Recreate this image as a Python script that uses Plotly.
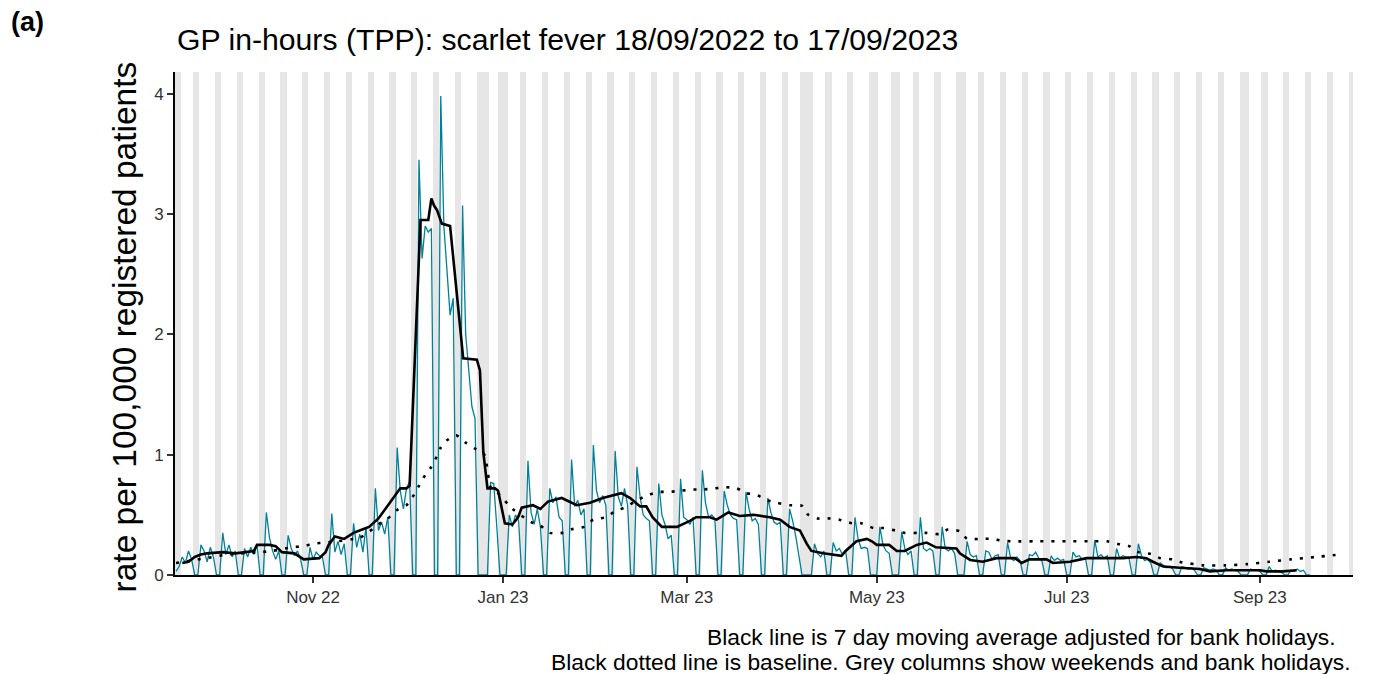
import pandas as pd
import plotly.graph_objects as go

# ---------------- data ----------------
START_DATE = "2022-09-18"          # first daily value (Sunday)
first_day_value = [0.03]
# daily rate per 100,000, Monday..Sunday, weeks starting 19 Sep 2022
weekly_rates = [
    [0.07, 0.15, 0.10, 0.20, 0.13, 0, 0],
    [0.25, 0.20, 0.11, 0.23, 0.15, 0, 0],
    [0.35, 0.17, 0.25, 0.15, 0.20, 0, 0],
    [0.22, 0.15, 0.23, 0.17, 0.25, 0, 0],
    [0.52, 0.31, 0.20, 0.13, 0.20, 0, 0],
    [0.33, 0.22, 0.16, 0.20, 0.13, 0, 0],
    [0.23, 0.13, 0.19, 0.16, 0.15, 0, 0],
    [0.51, 0.19, 0.28, 0.17, 0.26, 0, 0],
    [0.43, 0.23, 0.34, 0.19, 0.40, 0, 0],
    [0.72, 0.37, 0.44, 0.34, 0.48, 0, 0],
    [1.06, 0.70, 0.55, 0.72, 0.78, 0, 0],
    [3.45, 2.63, 2.90, 2.85, 2.88, 0, 0],
    [3.98, 2.90, 2.50, 2.16, 2.30, 0, 0],
    [3.07, 2.00, 1.66, 1.40, 1.30, 0, 0],
    [0, 0, 0.77, 0.76, 0.40, 0, 0],
    [0, 0.50, 0.40, 0.50, 0.45, 0, 0],
    [0.95, 0.52, 0.42, 0.55, 0.40, 0, 0],
    [0.72, 0.60, 0.65, 0.48, 0.45, 0, 0],
    [0.96, 0.57, 0.62, 0.50, 0.55, 0, 0],
    [1.08, 0.70, 0.60, 0.66, 0.58, 0, 0],
    [1.03, 0.65, 0.57, 0.72, 0.58, 0, 0],
    [0.90, 0.65, 0.50, 0.47, 0.45, 0, 0],
    [0.76, 0.50, 0.42, 0.30, 0.33, 0, 0],
    [0.80, 0.48, 0.46, 0.42, 0.48, 0, 0],
    [0.87, 0.60, 0.48, 0.50, 0.47, 0, 0],
    [0.70, 0.58, 0.50, 0.47, 0.46, 0, 0],
    [0.69, 0.55, 0.45, 0.47, 0.42, 0, 0],
    [0.64, 0.52, 0.44, 0.42, 0.44, 0, 0],
    [0.55, 0.45, 0.32, 0.17, 0, 0, 0],
    [0, 0.26, 0.18, 0.15, 0.20, 0, 0],
    [0.27, 0.20, 0.22, 0.17, 0.20, 0, 0],
    [0.48, 0.30, 0.22, 0.23, 0.22, 0, 0],
    [0, 0.40, 0.25, 0.20, 0.18, 0, 0],
    [0, 0.36, 0.22, 0.17, 0.20, 0, 0],
    [0.48, 0.22, 0.20, 0.22, 0.20, 0, 0],
    [0.40, 0.22, 0.20, 0.22, 0.18, 0, 0],
    [0, 0.28, 0.17, 0.15, 0.16, 0, 0],
    [0.20, 0.19, 0.13, 0.16, 0.17, 0, 0],
    [0.27, 0.14, 0.12, 0.15, 0.12, 0, 0],
    [0.17, 0.16, 0.19, 0.14, 0.12, 0, 0],
    [0.16, 0.12, 0.14, 0.12, 0.13, 0, 0],
    [0.19, 0.15, 0.16, 0.13, 0.14, 0, 0],
    [0.29, 0.15, 0.17, 0.14, 0.16, 0, 0],
    [0.22, 0.14, 0.16, 0.15, 0.14, 0, 0],
    [0.26, 0.16, 0.12, 0.13, 0.10, 0, 0],
    [0.10, 0.08, 0.06, 0.07, 0.05, 0, 0],
    [0.07, 0.06, 0.05, 0.06, 0.04, 0, 0],
    [0.06, 0.05, 0.04, 0.05, 0.04, 0, 0],
    [0.06, 0.04, 0.05, 0.04, 0.03, 0, 0],
    [0, 0.05, 0.04, 0.04, 0.03, 0, 0],
    [0.07, 0.03, 0.04, 0.03, 0.02, 0, 0],
    [0.04, 0.03, 0.05, 0.03, 0.04, 0, 0],
]

# 7 day moving average (adjusted for bank holidays)
ma_dates = [
    "2022-09-20", "2022-09-22", "2022-09-24", "2022-09-26", "2022-09-28",
    "2022-10-03", "2022-10-07", "2022-10-10", "2022-10-13", "2022-10-14",
    "2022-10-18", "2022-10-20", "2022-10-22", "2022-10-26", "2022-10-29",
    "2022-11-03", "2022-11-05", "2022-11-06", "2022-11-08", "2022-11-11",
    "2022-11-14", "2022-11-17", "2022-11-19", "2022-11-22", "2022-11-26",
    "2022-11-29", "2022-12-01", "2022-12-02", "2022-12-05 12:00", "2022-12-08",
    "2022-12-09", "2022-12-09 20:00", "2022-12-10 20:00", "2022-12-12 08:00", "2022-12-15",
    "2022-12-19 05:00", "2022-12-23 14:00", "2022-12-24 14:00", "2022-12-25 16:00", "2022-12-27",
    "2022-12-29 10:00", "2022-12-30 10:00", "2023-01-01 14:00", "2023-01-04", "2023-01-05 20:00",
    "2023-01-07", "2023-01-10 14:00", "2023-01-13", "2023-01-15 10:00", "2023-01-19 20:00",
    "2023-01-24 16:00", "2023-01-28 22:00", "2023-02-02", "2023-02-08", "2023-02-10 20:00",
    "2023-02-14", "2023-02-16", "2023-02-18", "2023-02-21", "2023-02-25 20:00",
    "2023-03-02", "2023-03-04", "2023-03-08 10:00", "2023-03-10 14:00", "2023-03-14 08:00",
    "2023-03-18", "2023-03-22 10:00", "2023-03-27 16:00", "2023-03-31", "2023-04-03",
    "2023-04-06 08:00", "2023-04-08 12:00", "2023-04-10", "2023-04-13 20:00", "2023-04-19 16:00",
    "2023-04-21", "2023-04-24 12:00", "2023-04-27 20:00", "2023-04-29 10:00", "2023-05-01",
    "2023-05-05", "2023-05-07 10:00", "2023-05-10", "2023-05-13 20:00", "2023-05-17",
    "2023-05-20", "2023-05-26 14:00", "2023-05-27 16:00", "2023-05-31", "2023-06-04",
    "2023-06-08 12:00", "2023-06-14 10:00", "2023-06-16 12:00", "2023-06-19", "2023-06-24 12:00",
    "2023-06-26 14:00", "2023-07-02", "2023-07-07 10:00", "2023-07-11 16:00", "2023-07-19",
    "2023-07-23 10:00", "2023-07-26 14:00", "2023-07-28 16:00", "2023-08-01", "2023-08-06 08:00",
    "2023-08-12 16:00", "2023-08-16", "2023-08-21 08:00", "2023-09-01", "2023-09-03 05:00",
    "2023-09-08 10:00", "2023-09-12 20:00",
]
ma_values = [
    0.10, 0.11, 0.15, 0.17, 0.18,
    0.19, 0.18, 0.19, 0.20, 0.25,
    0.25, 0.24, 0.19, 0.18, 0.13,
    0.14, 0.19, 0.25, 0.32, 0.30,
    0.35, 0.38, 0.40, 0.47, 0.61,
    0.72, 0.72, 0.74, 2.95, 2.95,
    3.13, 3.07, 3.03, 2.92, 2.90,
    1.80, 1.79, 1.70, 1.02, 0.72,
    0.72, 0.70, 0.43, 0.42, 0.48,
    0.56, 0.58, 0.55, 0.61, 0.64,
    0.58, 0.60, 0.64, 0.68, 0.64,
    0.57, 0.57, 0.48, 0.40, 0.40,
    0.45, 0.48, 0.48, 0.46, 0.52,
    0.49, 0.50, 0.48, 0.46, 0.40,
    0.37, 0.26, 0.20, 0.18, 0.16,
    0.20, 0.28, 0.30, 0.28, 0.25,
    0.25, 0.20, 0.20, 0.25, 0.27,
    0.23, 0.22, 0.18, 0.125, 0.11,
    0.14, 0.14, 0.10, 0.13, 0.13,
    0.10, 0.11, 0.14, 0.14, 0.14,
    0.15, 0.14, 0.11, 0.07, 0.06,
    0.05, 0.03, 0.04, 0.04, 0.03,
    0.03, 0.04,
]

# baseline
baseline_dates = [
    "2022-09-18", "2022-09-23", "2022-09-30", "2022-10-04", "2022-10-15",
    "2022-10-19", "2022-10-25", "2022-10-29", "2022-11-01", "2022-11-05",
    "2022-11-16", "2022-11-19", "2022-11-22", "2022-11-25", "2022-11-28",
    "2022-12-01", "2022-12-03", "2022-12-05", "2022-12-07", "2022-12-09",
    "2022-12-11", "2022-12-12", "2022-12-14", "2022-12-17", "2022-12-20",
    "2022-12-23", "2022-12-26", "2022-12-28", "2022-12-30", "2023-01-04",
    "2023-01-10", "2023-01-13", "2023-01-16", "2023-01-20", "2023-01-23",
    "2023-01-27", "2023-01-30", "2023-02-03", "2023-02-06", "2023-02-09",
    "2023-02-13", "2023-02-16", "2023-02-20", "2023-02-23", "2023-02-27",
    "2023-03-03", "2023-03-06", "2023-03-10", "2023-03-13", "2023-03-17",
    "2023-03-20", "2023-03-23", "2023-03-27", "2023-03-30", "2023-04-03",
    "2023-04-07", "2023-04-09", "2023-04-12", "2023-04-16", "2023-04-19",
    "2023-04-23", "2023-04-26", "2023-04-30", "2023-05-03", "2023-05-07",
    "2023-05-10", "2023-05-14", "2023-05-17", "2023-05-21", "2023-05-24",
    "2023-05-28", "2023-05-30", "2023-06-03", "2023-06-07", "2023-06-10",
    "2023-06-14", "2023-06-21", "2023-07-02", "2023-07-10", "2023-07-14",
    "2023-07-18", "2023-07-21", "2023-07-24", "2023-07-28", "2023-07-31",
    "2023-08-04", "2023-08-07", "2023-08-11", "2023-08-14", "2023-08-21",
    "2023-08-28", "2023-09-04", "2023-09-11", "2023-09-19", "2023-09-27",
]
baseline_values = [
    0.10, 0.12, 0.15, 0.17, 0.19,
    0.20, 0.23, 0.24, 0.26, 0.27,
    0.31, 0.36, 0.42, 0.47, 0.54,
    0.58, 0.65, 0.74, 0.83, 0.90,
    1.00, 1.06, 1.12, 1.16, 1.10,
    1.05, 1.00, 0.73, 0.69, 0.55,
    0.44, 0.41, 0.35, 0.35, 0.38,
    0.40, 0.46, 0.48, 0.53, 0.56,
    0.62, 0.66, 0.69, 0.69, 0.70,
    0.71, 0.71, 0.72, 0.73, 0.72,
    0.68, 0.67, 0.62, 0.60, 0.58,
    0.575, 0.50, 0.47, 0.47, 0.46,
    0.43, 0.43, 0.39, 0.39, 0.37,
    0.35, 0.35, 0.35, 0.34, 0.38,
    0.36, 0.30, 0.30, 0.30, 0.285,
    0.28, 0.28, 0.28, 0.28, 0.28,
    0.255, 0.24, 0.19, 0.175, 0.14,
    0.13, 0.105, 0.09, 0.08, 0.08,
    0.09, 0.11, 0.13, 0.15, 0.17,
]

bank_holidays = [
    "2022-09-19", "2022-12-26", "2022-12-27", "2023-01-02", "2023-04-07",
    "2023-04-10", "2023-05-01", "2023-05-08", "2023-05-29", "2023-08-28",
]
column_span = ("2022-09-17", "2023-10-01")

tick_dates = ["2022-11-01", "2023-01-01", "2023-03-01", "2023-05-01", "2023-07-01", "2023-09-01"]
tick_labels = ["Nov 22", "Jan 23", "Mar 23", "May 23", "Jul 23", "Sep 23"]
y_ticks = [0, 1, 2, 3, 4]

title_text = "GP in-hours (TPP): scarlet fever 18/09/2022 to 17/09/2023"
y_title = "rate per 100,000 registered patients"
caption_lines = [
    "Black line is 7 day moving average adjusted for bank holidays.",
    "Black dotted line is baseline. Grey columns show weekends and bank holidays.",
]

X_RANGE = ["2022-09-17 16:00", "2023-09-30 22:00"]
Y_MAX = 4.18

# ---------------- derived ----------------
def to_dt(values):
    return pd.to_datetime(values, format="mixed")

daily_values = first_day_value + [v for wk in weekly_rates for v in wk]
daily_dates = pd.date_range(START_DATE, periods=len(daily_values), freq="D")

all_days = pd.date_range(*column_span, freq="D")
bh = set(to_dt(bank_holidays))
grey_days = [d for d in all_days if d.weekday() >= 5 or d in bh]

FONT = "Liberation Sans, Arial, sans-serif"
TEAL = "#00809A"

fig = go.Figure()
fig.add_trace(go.Bar(
    x=grey_days, y=[Y_MAX] * len(grey_days), width=86400000,
    marker=dict(color="#e6e6e6", line=dict(width=0)),
    hoverinfo="skip", showlegend=False,
))
fig.add_trace(go.Scatter(
    x=daily_dates, y=daily_values, mode="lines",
    line=dict(color=TEAL, width=1.3), showlegend=False,
))
fig.add_trace(go.Scatter(
    x=to_dt(baseline_dates), y=baseline_values, mode="lines",
    line=dict(color="black", width=2.6, dash="3px,8px", shape="spline", smoothing=0.6),
    showlegend=False,
))
fig.add_trace(go.Scatter(
    x=to_dt(ma_dates), y=ma_values, mode="lines",
    line=dict(color="black", width=2.6), showlegend=False,
))

fig.update_layout(
    width=1373, height=674,
    margin=dict(l=175, r=20, t=72, b=99),
    plot_bgcolor="white", paper_bgcolor="white",
    bargap=0,
    font=dict(family=FONT, color="black"),
    xaxis=dict(
        type="date", range=X_RANGE,
        tickvals=to_dt(tick_dates), ticktext=tick_labels,
        showgrid=False, zeroline=False,
        showline=True, linecolor="black", linewidth=2,
        ticks="outside", ticklen=6, tickwidth=1.5, tickcolor="#333",
        tickfont=dict(size=17, color="#333", family=FONT),
    ),
    yaxis=dict(
        range=[0, Y_MAX], tickvals=y_ticks,
        showgrid=False, zeroline=False,
        showline=True, linecolor="black", linewidth=2,
        ticks="outside", ticklen=6, tickwidth=1.5, tickcolor="#333",
        tickfont=dict(size=17, color="#333", family=FONT),
    ),
    annotations=[
        dict(text="<b>(a)</b>", xref="paper", yref="paper",
             x=-0.1405, y=1.1, xanchor="left", yanchor="middle",
             showarrow=False, font=dict(size=27, family=FONT)),
        dict(text=title_text,
             xref="paper", yref="paper", x=0, y=1.064,
             xanchor="left", yanchor="middle", showarrow=False,
             font=dict(size=30.2, family=FONT)),
        dict(text=y_title, textangle=-90,
             xref="paper", yref="paper", x=-0.0425, y=0.494,
             xanchor="center", yanchor="middle", showarrow=False,
             font=dict(size=33.5, family=FONT)),
        dict(text=caption_lines[0],
             xref="paper", yref="paper", x=(1338 - 175) / 1178, y=-(637 - 575) / 503,
             xanchor="right", yanchor="middle", showarrow=False,
             font=dict(size=22.8, family=FONT)),
        dict(text=caption_lines[1],
             xref="paper", yref="paper", x=1, y=-(661.5 - 575) / 503,
             xanchor="right", yanchor="middle", showarrow=False,
             font=dict(size=22.8, family=FONT)),
    ],
)

fig.write_html("out.html", config={"displayModeBar": False},
               post_script="document.body.style.margin='0';")
